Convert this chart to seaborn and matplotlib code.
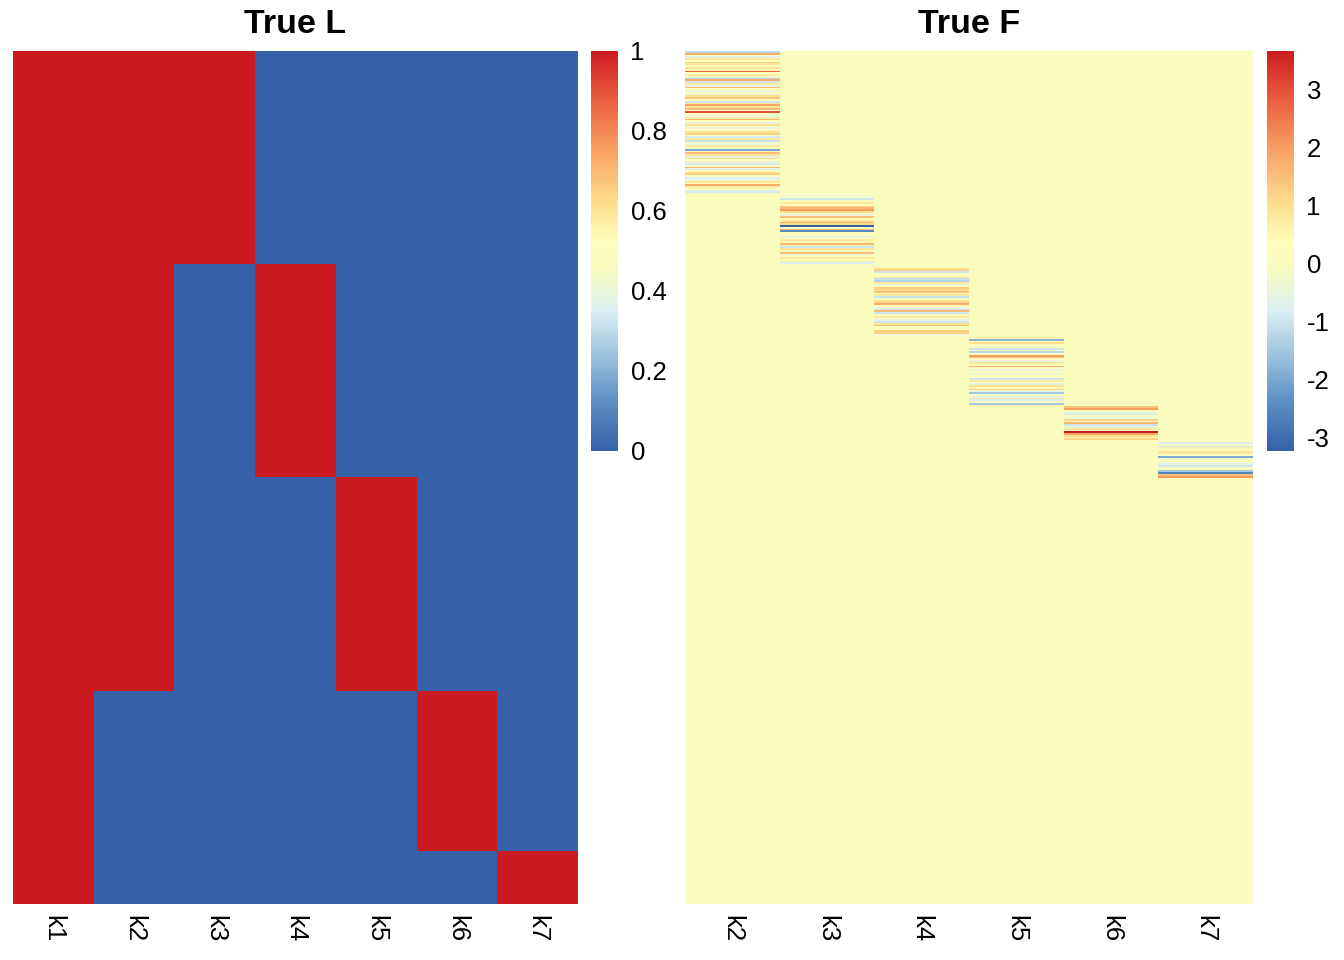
import numpy as np
import pandas as pd
import matplotlib
matplotlib.use("Agg")
import matplotlib.pyplot as plt
from matplotlib.colors import LinearSegmentedColormap
import seaborn as sns

# ---- data: loadings L (binary memberships) ----
L_cols = ["k1", "k2", "k3", "k4", "k5", "k6", "k7"]
group_sizes = [200, 200, 200, 150, 50]
L_pattern = [
    [1, 1, 1, 0, 0, 0, 0],
    [1, 1, 0, 1, 0, 0, 0],
    [1, 1, 0, 0, 1, 0, 0],
    [1, 0, 0, 0, 0, 1, 0],
    [1, 0, 0, 0, 0, 0, 1],
]

F_cols = ["k2", "k3", "k4", "k5", "k6", "k7"]
f_k2 = [-1.2, 1.8, 0.3, -0.7, 0.8, 0.3, 1.2, 0.8, 0.2, 0.9,
        0.4, 2.8, 0.3, 0.7, -0.3, -1.3, 1.8, -1.0, 0.8, -0.6,
        1.6, 0.2, -0.5, 0.1, -0.6, 1.0, 1.4, 0.3, -1.0, 0.9,
        1.9, 0.9, 1.5, -0.4, 3.0, 0.3, -0.5, 0.7,
        1.6, 0.4, -0.6, 1.0, 0.2, -0.5, 0.1, 0.9, 1.2, 0.3,
        -0.9, 0.8, -1.1, 0.2, -0.5, 0.8, 0.1, -2.0, 0.3, 1.5,
        0.9, -0.6, 1.0, 0.3, -0.4, -0.9, 0.2, 1.6, -0.6, 0.2,
        1.1, 1.3, 0.2, -0.8, -0.4, 0.9, 0.2, 1.8, 0.7, 0.1,
        -0.5, -0.9]
f_k3 = [0.2, -0.4, 0.2, -1.0, 0.2, 0.8, 0.3, 1.3, 1.6, 2.0,
        1.0, 0.3, -0.5, 1.5, 0.3, 0.9, 1.7, 1.0, -3.24, 0.2,
        1.5, -2.5, 0.3, 0.2, -0.5, 0.3, 0.8, 0.2, 1.6, 0.7,
        -1.0, 0.9, 0.1, 1.5, -0.5, 0.2, 0.8, 0.2, 0.7, -0.8]
f_k4 = [0.3, 0.1, 1.0, 1.4, -1.0, 0.2, 0.0, 0.9, -1.1, -1.3,
        0.8, -0.4, 0.2, 1.3, 1.0, 1.5, 0.3, 0.9, -1.1, 0.1,
        0.9, 1.2, 1.8, 0.2, -0.4, -1.0, 1.6, -1.0, 0.2, 0.8,
        0.2, -0.6, -1.0, 0.9, 1.5, 0.3, 0.1, 1.3, 1.2, -0.6]
f_k5 = [0.1, 0.6, -1.8, 0.2, 1.0, 0.2, 0.0, -1.0, 0.3, -1.2,
        0.3, 2.0, 1.4, 0.2, -0.4, 0.8, 0.2, 1.8, 0.3, -0.5,
        0.2, -0.6, 0.1, 0.2, -1.0, 0.8, 0.1, -0.6, 1.0, 0.2,
        1.2, -0.5, -1.5, 0.2, -0.6, 0.9, -0.9, 0.3, -1.5, 0.7]
f_k6 = [1.5, 2.0, 0.3, -0.6, -1.0, 0.2, -0.4, 1.2, 0.2, 1.6,
        -1.0, -0.5, 0.8, 0.3, 3.66, 1.8, 1.0, 0.2, 1.2, 0.3]
f_k7 = [-0.8, 0.1, -1.0, 0.6, 0.2, 0.9, 0.8, 0.2, -2.0, 0.1,
        0.2, -0.5, -0.6, -1.0, 0.2, 0.1, -1.5, -2.6, 1.5, 2.0]
n_zero_rows = 240

L = np.repeat(np.array(L_pattern), group_sizes, axis=0)
L_df = pd.DataFrame(L, columns=L_cols)

blocks = [f_k2, f_k3, f_k4, f_k5, f_k6, f_k7]
n_F = sum(len(b) for b in blocks) + n_zero_rows
F = np.zeros((n_F, len(F_cols)))
start = 0
for j, b in enumerate(blocks):
    F[start:start + len(b), j] = b
    start += len(b)
F_df = pd.DataFrame(F, columns=F_cols)

# colour ramp (blue -> pale yellow -> red)
cmap = LinearSegmentedColormap.from_list("ryb", [
    (0.00, "#3561A8"), (0.12, "#5B8EC3"), (0.25, "#A3C8E0"),
    (0.35, "#DCEFF3"), (0.46, "#F8FBBC"), (0.52, "#FEFEBE"),
    (0.62, "#FDDE8C"), (0.75, "#F9A263"), (0.88, "#EA5E3F"),
    (1.00, "#CB1B20")])

sns.set_style("white")
plt.rcParams['font.family'] = ['Liberation Sans', 'DejaVu Sans']
plt.rcParams['text.color'] = 'black'
plt.rcParams['xtick.color'] = 'black'
plt.rcParams['ytick.color'] = 'black'

W, H = 1344, 960
fig = plt.figure(figsize=(W / 100, H / 100), dpi=100)

def box(x0, y0, x1, y1):
    return [x0 / W, 1 - y1 / H, (x1 - x0) / W, (y1 - y0) / H]

axL = fig.add_axes(box(13, 51, 578, 904))
caxL = fig.add_axes(box(591, 51, 618, 451))
axF = fig.add_axes(box(685, 51, 1253, 904))
caxF = fig.add_axes(box(1267, 51, 1294, 451))

sns.heatmap(L_df, ax=axL, cbar_ax=caxL, cmap=cmap, vmin=0, vmax=1,
            xticklabels=L_cols, yticklabels=False, rasterized=True)
sns.heatmap(F_df, ax=axF, cbar_ax=caxF, cmap=cmap,
            vmin=F.min(), vmax=F.max(),
            xticklabels=F_cols, yticklabels=False, rasterized=True)

for ax, title in [(axL, "True L"), (axF, "True F")]:
    ax.set_title(title, fontsize=24.5, fontweight='bold', pad=13, color='black')
    ax.tick_params(axis='x', length=0, pad=8, labelsize=18.5, labelcolor='black')
    plt.setp(ax.get_xticklabels(), rotation=-90, ha='center', va='top')
    ax.set_xlabel("")
    ax.set_ylabel("")

caxL.set_yticks([0, 0.2, 0.4, 0.6, 0.8, 1])
caxL.set_yticklabels(["0", "0.2", "0.4", "0.6", "0.8", "1"])
caxF.set_yticks([-3, -2, -1, 0, 1, 2, 3])
caxF.set_yticklabels(["-3", "-2", "-1", "0", "1", "2", "3"])
for cax in (caxL, caxF):
    cax.tick_params(length=0, pad=9, labelsize=18.5, labelcolor='black')

fig.savefig("out.png", dpi=100)
